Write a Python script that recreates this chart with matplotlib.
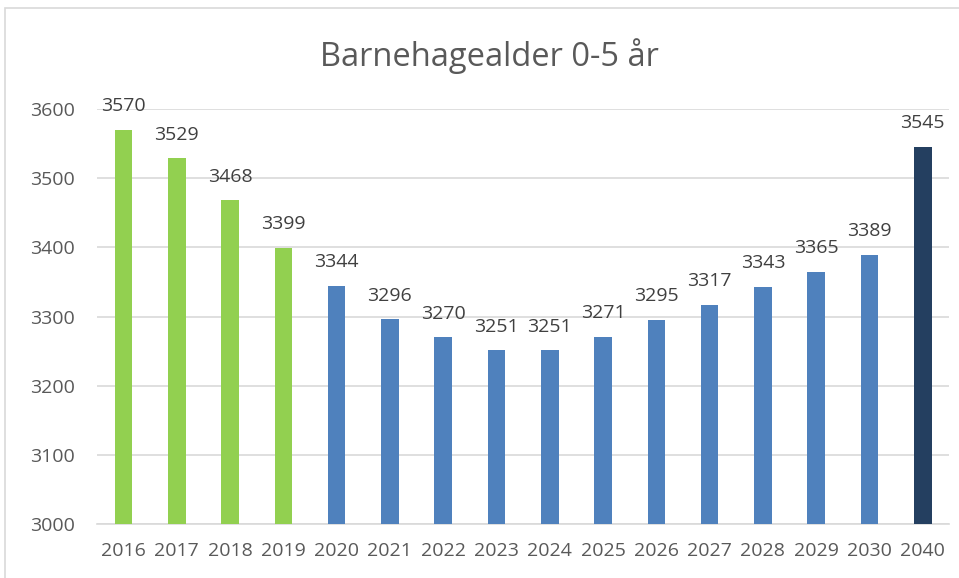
import matplotlib.pyplot as plt
from matplotlib.patches import Rectangle

years = ["2016", "2017", "2018", "2019", "2020", "2021", "2022", "2023",
         "2024", "2025", "2026", "2027", "2028", "2029", "2030", "2040"]
values = [3570, 3529, 3468, 3399, 3344, 3296, 3270, 3251,
          3251, 3271, 3295, 3317, 3343, 3365, 3389, 3545]
groups = ["hist"] * 4 + ["proj"] * 11 + ["far"]
colors = {"hist": "#92D050", "proj": "#4F81BD", "far": "#243F60"}

plt.rcParams['font.family'] = ['Open Sans', 'DejaVu Sans']
text_color = "#595959"

fig = plt.figure(figsize=(9.59, 5.78), dpi=100)
ax = fig.add_axes([0.101, 0.0934, 0.889, 0.718])

x = range(len(years))
bars = ax.bar(x, values, width=0.33, bottom=0,
              color=[colors[g] for g in groups], zorder=3)

for i, v in enumerate(values):
    ax.annotate(str(v), (i, v), xytext=(0, 10.5), textcoords="offset points",
                ha="center", va="bottom", fontsize=14, color="#404040",
                clip_on=False)

ax.set_ylim(3000, 3600)
ax.set_xlim(-0.5, len(years) - 0.5)
ax.set_yticks(range(3000, 3601, 100))
ax.set_xticks(list(x))
ax.set_xticklabels(years)
ax.tick_params(axis="both", length=0, labelsize=14, labelcolor=text_color)
ax.tick_params(axis="y", pad=16)
ax.tick_params(axis="x", pad=13)
ax.grid(axis="y", color="#D9D9D9", linewidth=1.2, zorder=0)
for s in ["top", "right", "left"]:
    ax.spines[s].set_visible(False)
ax.spines["bottom"].set_color("#D9D9D9")
ax.spines["bottom"].set_linewidth(1.2)

fig.text(0.51, 0.903, "Barnehagealder 0-5 år", ha="center", va="center",
         fontsize=23.5, color=text_color)

fig.patches.append(Rectangle((5 / 959, -0.1), 1.1, 1 - 8 / 578 + 0.1,
                             transform=fig.transFigure, fill=False,
                             edgecolor="#D9D9D9", linewidth=1.2))

fig.savefig("out.png", dpi=100)
